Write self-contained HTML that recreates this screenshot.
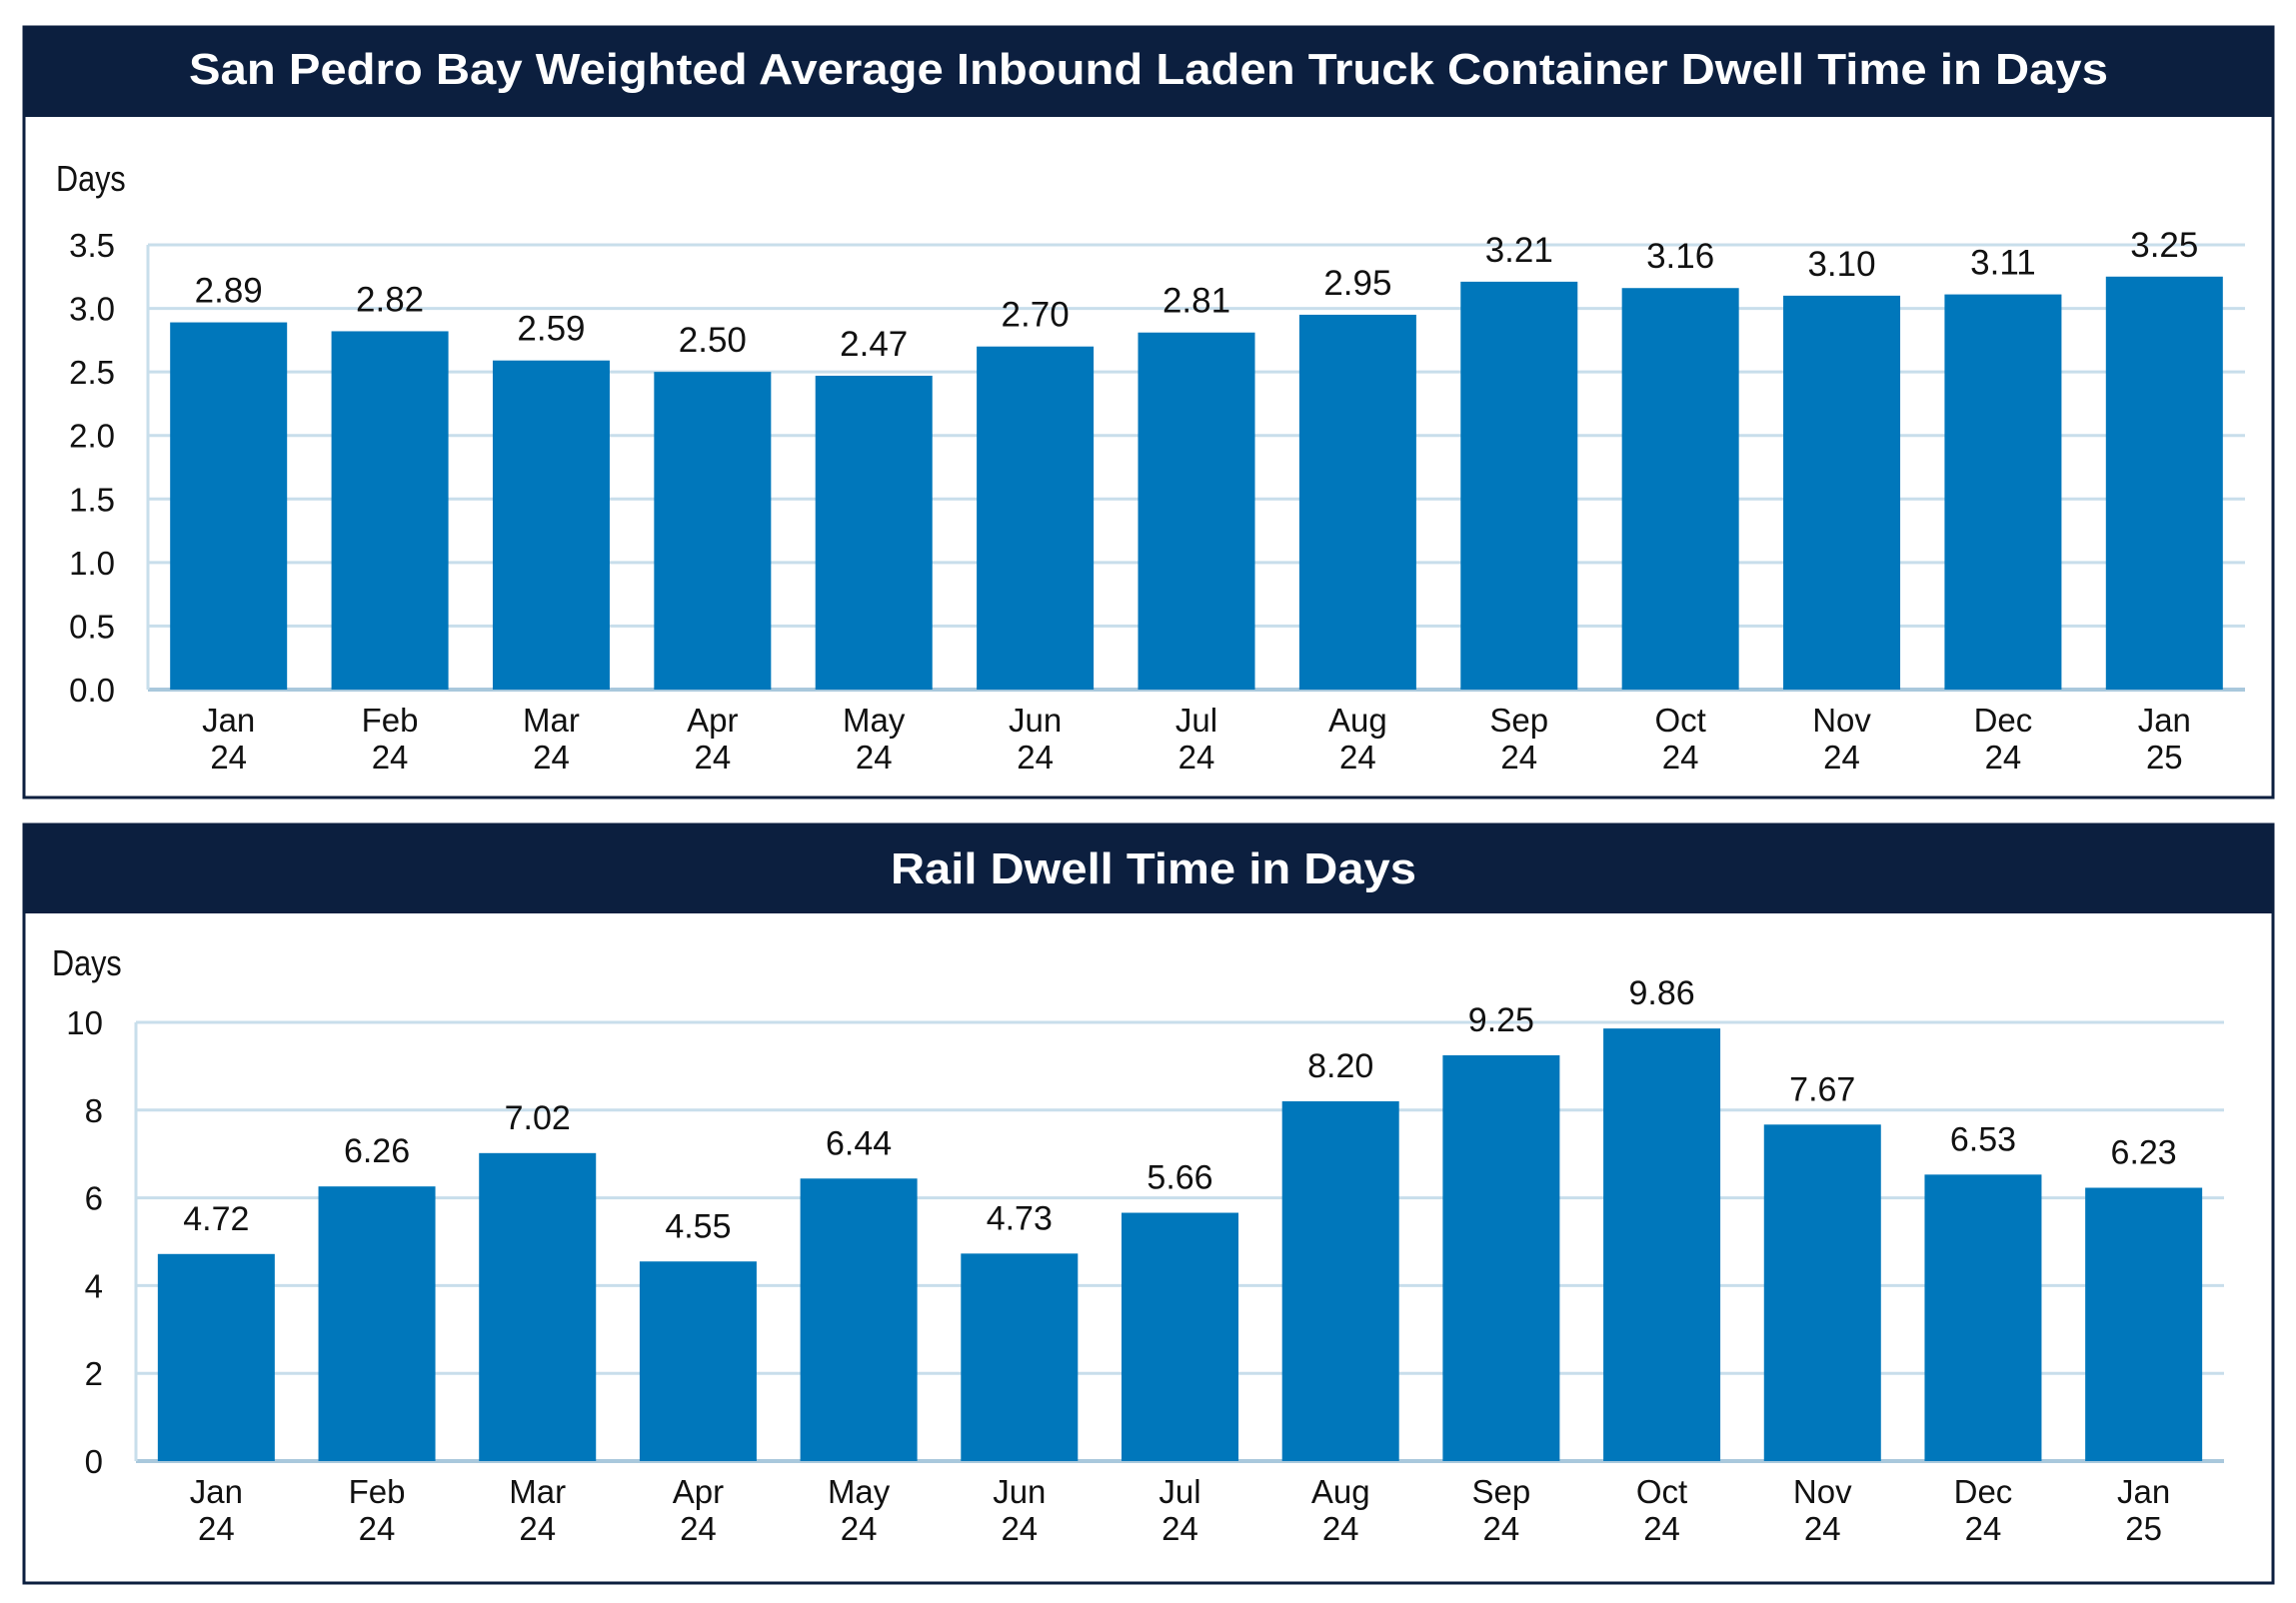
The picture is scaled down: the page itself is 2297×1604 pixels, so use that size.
<!DOCTYPE html>
<html><head><meta charset="utf-8"><style>
html,body{margin:0;padding:0;background:#fff;}
svg{display:block;}
.cond{font-family:"Liberation Sans Narrow","Liberation Sans",sans-serif;font-stretch:condensed;}
</style></head><body>
<svg id="svg" width="2297" height="1604" viewBox="0 0 2297 1604" xmlns="http://www.w3.org/2000/svg">
  <rect x="24" y="27" width="2250" height="771" fill="#fff" stroke="#0c1f3f" stroke-width="3"/>
  <rect x="24" y="27" width="2250" height="90" fill="#0c1f3f"/>
  <text x="1149" y="84" text-anchor="middle" fill="#fff" font-family="Liberation Sans, sans-serif" font-weight="bold" font-size="44" textLength="1920" lengthAdjust="spacingAndGlyphs">San Pedro Bay Weighted Average Inbound Laden Truck Container Dwell Time in Days</text>
  <text x="56" y="191" fill="#111" class="cond" font-size="36" transform="translate(56 0) scale(0.85 1) translate(-56 0)">Days</text>
  <g id="chart1"></g>

  <rect x="24" y="825" width="2250" height="759" fill="#fff" stroke="#0c1f3f" stroke-width="3"/>
  <rect x="24" y="825" width="2250" height="89" fill="#0c1f3f"/>
  <text x="1154" y="884" text-anchor="middle" fill="#fff" font-family="Liberation Sans, sans-serif" font-weight="bold" font-size="44" textLength="526" lengthAdjust="spacingAndGlyphs">Rail Dwell Time in Days</text>
  <text x="52" y="976" fill="#111" class="cond" font-size="36" transform="translate(52 0) scale(0.85 1) translate(-52 0)">Days</text>
  <g id="chart2"></g>
</svg>
<script>
const months = ["Jan","Feb","Mar","Apr","May","Jun","Jul","Aug","Sep","Oct","Nov","Dec","Jan"];
const years = ["24","24","24","24","24","24","24","24","24","24","24","24","25"];
const truckValues = [2.89,2.82,2.59,2.50,2.47,2.70,2.81,2.95,3.21,3.16,3.10,3.11,3.25];
const truckTicks = ["0.0","0.5","1.0","1.5","2.0","2.5","3.0","3.5"];
const railValues = [4.72,6.26,7.02,4.55,6.44,4.73,5.66,8.20,9.25,9.86,7.67,6.53,6.23];
const railTicks = ["0","2","4","6","8","10"];

const NS = "http://www.w3.org/2000/svg";
function mk(parent, tag, attrs, text){
  const e = document.createElementNS(NS, tag);
  for (const k in attrs) e.setAttribute(k, attrs[k]);
  if (text !== undefined) e.textContent = text;
  parent.appendChild(e);
  return e;
}
function draw(gid, prefix, values, ticks, cfg){
  const g = document.getElementById(gid);
  const tmax = parseFloat(ticks[ticks.length-1]);
  const y = v => cfg.y0 - (v / tmax) * (cfg.y0 - cfg.yTop);
  const step = (cfg.right - cfg.left) / values.length;
  const x = i => cfg.left + step * (i + 0.5);
  ticks.forEach((t) => {
    const v = parseFloat(t);
    const ln = mk(g, "line", {x1: cfg.left, x2: cfg.right, y1: y(v), y2: y(v), stroke: v === 0 ? "#a9c8dc" : "#c8deeb", "stroke-width": v === 0 ? 4 : 3});
    
    
    const tx = mk(g, "text", {x: cfg.tickX, y: y(v) + 12, "text-anchor": "end", fill: "#111", "font-size": 33, "font-family": '"Liberation Sans Narrow","Liberation Sans",sans-serif'}, t);
    
    
  });
  const ax = mk(g, "line", {x1: cfg.left, x2: cfg.left, y1: cfg.yTop, y2: cfg.y0, stroke: "#c8deeb", "stroke-width": 3});
  
  
  values.forEach((v, i) => {
    const r = mk(g, "rect", {x: x(i) - cfg.bw/2, y: y(v), width: cfg.bw, height: cfg.y0 - y(v), fill: "#0077bb"});
    
    
    const lb = mk(g, "text", {x: x(i), y: y(v) - cfg.voff, "text-anchor": "middle", fill: "#111", "font-size": cfg.vfs, "font-family": cfg.vfont}, v.toFixed(2));
    
    
    const m = mk(g, "text", {x: x(i), y: cfg.y0 + 42, "text-anchor": "middle", fill: "#111", "font-size": 33, "font-family": '"Liberation Sans Narrow","Liberation Sans",sans-serif'}, months[i]);
    
    
    const yr = mk(g, "text", {x: x(i), y: cfg.y0 + 79, "text-anchor": "middle", fill: "#111", "font-size": 33, "font-family": '"Liberation Sans Narrow","Liberation Sans",sans-serif'}, years[i]);
    
    
  });
}
draw("chart1", "truck", truckValues, truckTicks, {left:148, right:2246, y0:690, yTop:245, bw:117, tickX:115, vfs:35, voff:20, vfont:'"Liberation Sans Narrow","Liberation Sans",sans-serif'});
draw("chart2", "rail", railValues, railTicks, {left:136, right:2225, y0:1462, yTop:1023, bw:117, tickX:103, vfs:34, voff:24, vfont:'"Liberation Sans",sans-serif'});
</script>
</body></html>
